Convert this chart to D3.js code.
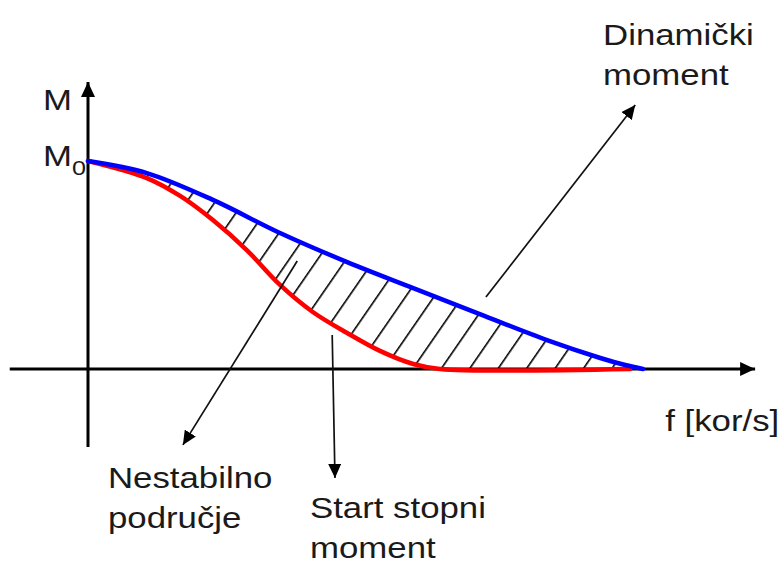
<!DOCTYPE html>
<html>
<head>
<meta charset="utf-8">
<script src="https://cdn.jsdelivr.net/npm/d3@7"></script>
<style>
  html, body { margin: 0; padding: 0; background: #fff; }
  svg { display: block; }
  .lbl { font-family: "Liberation Sans", Arial, sans-serif; font-size: 29px; fill: #1a1a1a; }
</style>
</head>
<body>
<svg id="chart" width="782" height="563"></svg>
<script>
// ── Data (f normalised to curve end, M normalised to M0) ──
const dynF = [0, 0.106, 0.225, 0.346, 0.467, 0.586, 0.706, 0.827, 0.923, 0.968, 1.0];
const dynM = [1.0, 0.942, 0.813, 0.654, 0.514, 0.389, 0.264, 0.139, 0.053, 0.019, 0.0];

const startF = [0, 0.106, 0.166, 0.225, 0.286, 0.346, 0.405, 0.467, 0.526, 0.586, 0.634, 0.977];
const startM = [1.0, 0.918, 0.832, 0.716, 0.572, 0.404, 0.274, 0.173, 0.087, 0.024, 0.0, 0.0];

// axis extents
const fAxis = [-0.141, 1.202];
const mAxis = [-0.375, 1.38];

// annotation pointers
const pointerNames = ['Dinamički moment', 'Nestabilno područje', 'Start stopni moment'];
const pointerFrom = [[0.717, 0.346], [0.377, 0.519], [0.440, 0.163]];
const pointerTo = [[0.986, 1.269], [0.171, -0.365], [0.445, -0.524]];

// text labels and their anchors (data units)
const labelLines = [['Dinamički', 'moment'], ['Nestabilno', 'područje'], ['Start stopni', 'moment'], ['f [kor/s]'], ['M']];
const labelPos = [[0.928, 1.558], [0.036, -0.574], [0.400, -0.716], [1.040, -0.296], [-0.081, 1.245]];

// ── Scales ──
const x = d3.scaleLinear().domain([0, 1]).range([88, 643]);
const y = d3.scaleLinear().domain([0, 1]).range([369, 161]);

const svg = d3.select('#chart');
const defs = svg.append('defs');

// arrow heads
function marker(id, len, wid) {
    defs.append('marker')
        .attr('id', id)
        .attr('viewBox', `0 0 ${len} ${wid}`)
        .attr('refX', len).attr('refY', wid / 2)
        .attr('markerWidth', len).attr('markerHeight', wid)
        .attr('markerUnits', 'userSpaceOnUse')
        .attr('orient', 'auto')
        .append('path')
        .attr('d', `M0,0L${len},${wid / 2}L0,${wid}Z`)
        .attr('fill', '#000');
}
marker('axisHead', 15, 14);
marker('ptrHead', 14, 13);

// hatch pattern, lines at ~55deg
const hatchStart = [0.583, 0];
defs.append('pattern')
    .attr('id', 'hatch')
    .attr('patternUnits', 'userSpaceOnUse')
    .attr('width', 23.4).attr('height', 20)
    .attr('patternTransform', `translate(${x(hatchStart[0])},${y(hatchStart[1])}) rotate(34.6)`)
    .append('line')
    .attr('x1', 0.8).attr('y1', 0).attr('x2', 0.8).attr('y2', 20)
    .attr('stroke', '#000').attr('stroke-width', 1.6);

const dyn = dynF.map((f, i) => [f, dynM[i]]);
const start = startF.map((f, i) => [f, startM[i]]);

const curve = d3.curveCatmullRom.alpha(0.5);
const areaUnder = d3.area().x(d => x(d[0])).y0(y(0)).y1(d => y(d[1])).curve(curve);
const line = d3.line().x(d => x(d[0])).y(d => y(d[1])).curve(curve);

// hatched region between the curves
svg.append('path').datum(dyn).attr('d', areaUnder).attr('fill', 'url(#hatch)');
svg.append('path').datum(start).attr('d', areaUnder).attr('fill', '#fff');

// axes
svg.append('line')
    .attr('x1', x(fAxis[0])).attr('y1', y(0))
    .attr('x2', x(fAxis[1])).attr('y2', y(0))
    .attr('stroke', '#000').attr('stroke-width', 3)
    .attr('marker-end', 'url(#axisHead)');
svg.append('line')
    .attr('x1', x(0)).attr('y1', y(mAxis[0]))
    .attr('x2', x(0)).attr('y2', y(mAxis[1]))
    .attr('stroke', '#000').attr('stroke-width', 3)
    .attr('marker-end', 'url(#axisHead)');

// curves
svg.append('path').datum(start).attr('d', line)
    .attr('fill', 'none').attr('stroke', '#ff0000').attr('stroke-width', 4.5)
    .attr('stroke-linecap', 'round');
svg.append('path').datum(dyn).attr('d', line)
    .attr('fill', 'none').attr('stroke', '#0000ff').attr('stroke-width', 4.5)
    .attr('stroke-linecap', 'round');

// pointers
svg.selectAll('.ptr').data(pointerNames).join('line')
    .attr('class', 'ptr')
    .attr('x1', (d, i) => x(pointerFrom[i][0])).attr('y1', (d, i) => y(pointerFrom[i][1]))
    .attr('x2', (d, i) => x(pointerTo[i][0])).attr('y2', (d, i) => y(pointerTo[i][1]))
    .attr('stroke', '#111').attr('stroke-width', 1.7)
    .attr('marker-end', 'url(#ptrHead)');

// labels (source text is a bit stretched horizontally)
labelLines.forEach((lines, i) => {
    const g = svg.append('g')
        .attr('transform', `translate(${x(labelPos[i][0])},${y(labelPos[i][1])}) scale(1.2,1)`);
    lines.forEach((t, k) => {
        g.append('text').attr('class', 'lbl').attr('x', 0).attr('y', k * 40).text(t);
    });
});

// M0 label with subscript
const m0 = svg.append('g').attr('transform', `translate(43,${y(1) + 5}) scale(1.2,1)`);
const m0t = m0.append('text').attr('class', 'lbl');
m0t.append('tspan').text('M');
m0t.append('tspan').attr('dy', 9).style('font-size', '21px').text('0');
</script>
</body>
</html>
